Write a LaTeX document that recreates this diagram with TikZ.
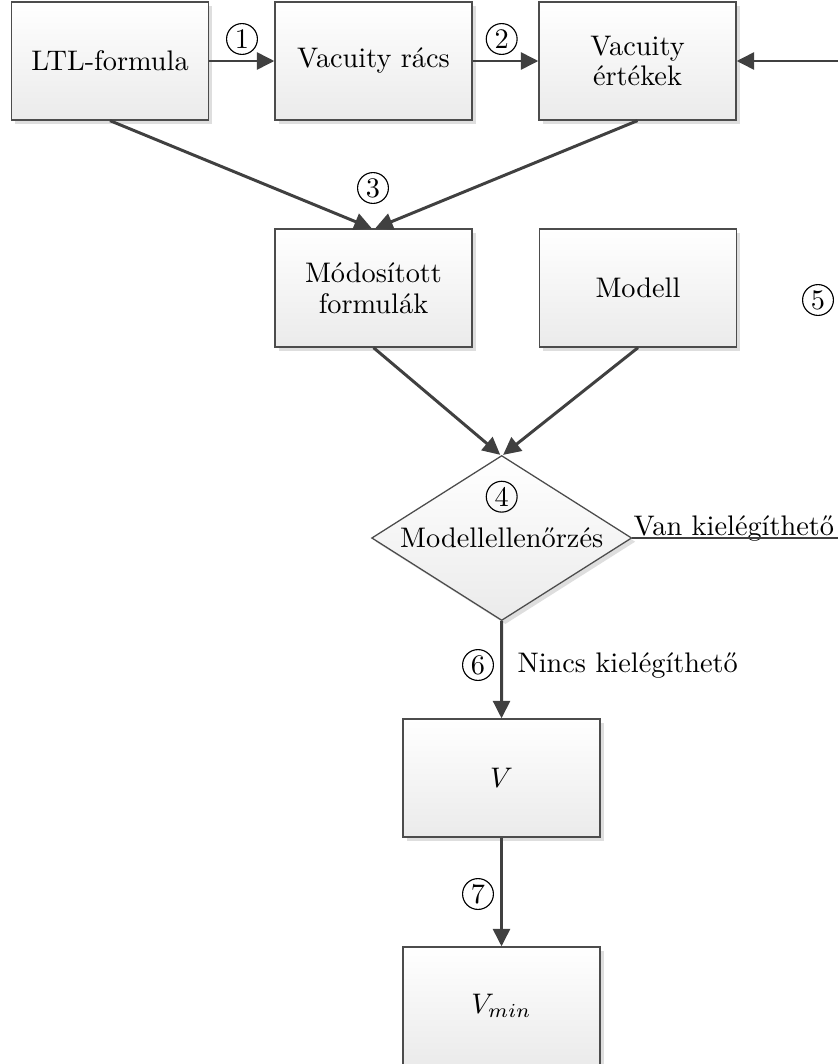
\documentclass[tikz,border=0pt]{standalone}
\usetikzlibrary{arrows.meta,shapes.geometric,shadows}
\begin{document}
\begin{tikzpicture}[x=0.3533pt,y=-0.3533pt,
  box/.style={draw=black!70, line width=0.45pt, top color=white, bottom color=black!8,
    drop shadow={shadow xshift=1.3pt,shadow yshift=-1.3pt,fill=black!13,opacity=1},
    minimum width=69.6pt, minimum height=41.7pt, inner sep=2pt, align=center,
    font=\fontsize{10pt}{10.8pt}\selectfont},
  decision/.style={diamond, draw=black!70, line width=0.45pt, top color=white, bottom color=black!8,
    drop shadow={shadow xshift=1.3pt,shadow yshift=-1.3pt,fill=black!13,opacity=1},
    minimum width=91.9pt, minimum height=58.3pt, inner sep=0pt},
  num/.style={circle, draw, line width=0.4pt, inner sep=0pt, minimum size=10.9pt},
  lbl/.style={inner sep=0pt, anchor=base west},
  arr/.style={draw=black!75, line width=1.05pt, -{Triangle[length=6.2pt,width=6pt]}},
  flow/.style={draw=black!75, line width=0.9pt},
]
\useasboundingbox (0,0) rectangle (838,1064);
\clip (0,0) rectangle (838,1064);

% process boxes
\node[box] (ltl)    at (110,61)    {LTL-formula};
\node[box] (racs)   at (373.5,61)  {Vacuity rács};
\node[box] (ertek)  at (637.5,61)  {Vacuity\\értékek};
\node[box] (mod)    at (373.5,288) {Módosított\\formulák};
\node[box] (modell) at (638,288)   {Modell};
\node[decision] (chk) at (501.7,538) {};
\node[inner sep=0pt] (chktxt) at (501.7,538) {Modellellenőrzés};
\node[box] (v)      at (501.5,778) {$V$};
\node[box] (vmin)   at (501.5,1006) {$V_{min}$};

% free ends of the feedback loop
\coordinate (loopin)  at (870,61);
\coordinate (loopout) at (870,538);

% step numbers
\node[num] (n1) at (242,39)      {1};
\node[num] (n2) at (501.7,39)    {2};
\node[num] (n3) at (373,188)     {3};
\node[num] (n4) at (501.7,496.7) {4};
\node[num] (n5) at (818,300)     {5};
\node[num] (n6) at (478,665)     {6};
\node[num] (n7) at (478,894)     {7};

% branch labels
\node[lbl] (yes) at (633,535) {Van kielégíthető};
\node[lbl] (no)  at (517,672) {Nincs kielégíthető};

% connectors
\draw[arr] (ltl.east) -- (racs.west);
\draw[arr] (racs.east) -- (ertek.west);
\draw[arr] (loopin) -- (ertek.east);
\draw[arr] (ltl.south) -- ([xshift=-0.6pt]mod.north);
\draw[arr] (ertek.south) -- ([xshift=0.6pt]mod.north);
\draw[arr] (mod.south) -- ([xshift=-0.5pt]chk.north);
\draw[arr] (modell.south) -- ([xshift=0.5pt]chk.north);
\draw[flow] (chk.east) -- (loopout);
\draw[arr] (chk.south) -- (v.north);
\draw[arr] (v.south) -- (vmin.north);
\end{tikzpicture}
\end{document}
